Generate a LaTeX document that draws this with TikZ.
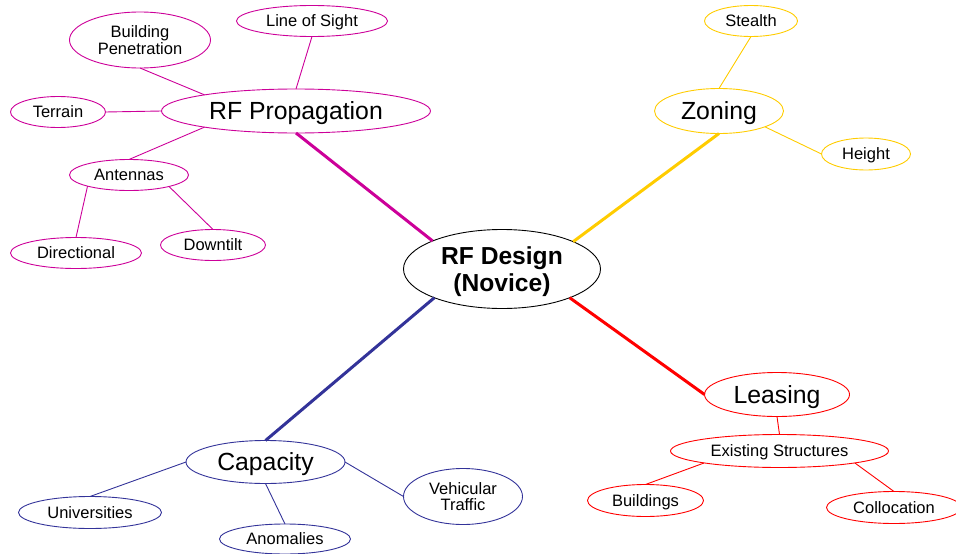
\documentclass[tikz,border=0pt]{standalone}
\usepackage{fontspec}
\setmainfont{Liberation Sans}
\usetikzlibrary{shapes.geometric}
\definecolor{cMag}{RGB}{204,0,153}
\definecolor{cYel}{RGB}{255,204,0}
\definecolor{cBlu}{RGB}{51,51,153}
\definecolor{cRed}{RGB}{255,0,0}
\tikzset{
  el/.style={ellipse, draw, inner sep=0pt, outer sep=0pt, align=center, line width=0.9pt, text=black, text depth=0pt},
  small/.style={font=\fontsize{16.5}{16.8}\selectfont},
  big/.style={font=\fontsize{24.8}{27}\selectfont},
  hub/.style={font=\fontsize{24.6}{26.5}\selectfont\bfseries},
  twig/.style={line width=0.9pt},
  trunk/.style={line width=3pt},
  mg/.style={draw=cMag},
  yl/.style={draw=cYel},
  bl/.style={draw=cBlu},
  rd/.style={draw=cRed}
}
\begin{document}
\begin{tikzpicture}[x=1pt,y=-1pt]
\useasboundingbox (0,0) rectangle (956,554);
% center
\node[el, hub, draw=black, minimum width=197pt, minimum height=79pt] (ctr) at (502,269) {RF Design\\(Novice)};
% RF Propagation branch
\node[el, big, mg, minimum width=269pt, minimum height=44pt] (rfp) at (296,111) {RF Propagation};
\node[el, small, mg, minimum width=151pt, minimum height=31pt] (los) at (312,21) {Line of Sight};
\node[el, small, mg, minimum width=141pt, minimum height=56pt] (bp) at (140,40) {Building\\Penetration};
\node[el, small, mg, minimum width=95pt, minimum height=31pt] (ter) at (58,112) {Terrain};
\node[el, small, mg, minimum width=119pt, minimum height=31pt] (ant) at (129,175) {Antennas};
\node[el, small, mg, minimum width=131pt, minimum height=31pt] (dir) at (76,253) {Directional};
\node[el, small, mg, minimum width=105pt, minimum height=31pt] (dwn) at (213,245) {Downtilt};
% Zoning branch
\node[el, big, yl, minimum width=129pt, minimum height=45pt] (zon) at (719,111) {Zoning};
\node[el, small, yl, minimum width=93pt, minimum height=31pt] (stl) at (751,21) {Stealth};
\node[el, small, yl, minimum width=89pt, minimum height=32pt] (hgt) at (866,154) {Height};
% Capacity branch
\node[el, big, bl, minimum width=159pt, minimum height=43pt] (cap) at (265.5,462) {Capacity};
\node[el, small, bl, minimum width=143pt, minimum height=32pt] (uni) at (90,512.5) {Universities};
\node[el, small, bl, minimum width=131pt, minimum height=30pt] (ano) at (285,539) {Anomalies};
\node[el, small, bl, minimum width=119pt, minimum height=56pt] (veh) at (463,496.5) {Vehicular\\Traffic};
% Leasing branch
\node[el, big, rd, minimum width=145pt, minimum height=44pt] (lea) at (777,394.5) {Leasing};
\node[el, small, rd, minimum width=218pt, minimum height=33pt] (exs) at (779.5,451) {Existing Structures};
\node[el, small, rd, minimum width=116pt, minimum height=32pt] (bld) at (645.5,500.5) {Buildings};
\node[el, small, rd, minimum width=135pt, minimum height=32pt] (col) at (894,507.5) {Collocation};
% trunks
\draw[trunk, cMag] (rfp.270) -- (ctr.158);
\draw[trunk, cYel] (zon.270) -- (ctr.21.5);
\draw[trunk, cBlu] (cap.90) -- (ctr.203);
\draw[trunk, cRed] (lea.180) -- (ctr.-23);
% twigs
\draw[twig, cMag] (bp.270) -- (rfp.170);
\draw[twig, cMag] (los.270) -- (rfp.90);
\draw[twig, cMag] (ter.0) -- (rfp.180);
\draw[twig, cMag] (ant.90) -- (rfp.190);
\draw[twig, cMag] (ant.195.6) -- (dir.90);
\draw[twig, cMag] (ant.344.4) -- (dwn.90);
\draw[twig, cYel] (zon.90) -- (stl.270);
\draw[twig, cYel] (zon.341) -- (hgt.180);
\draw[twig, cBlu] (cap.180) -- (uni.90);
\draw[twig, cBlu] (cap.270) -- (ano.90);
\draw[twig, cBlu] (cap.0) -- (veh.180);
\draw[twig, cRed] (lea.270) -- (exs.90);
\draw[twig, cRed] (exs.189) -- (bld.90);
\draw[twig, cRed] (exs.351) -- (col.90);
\end{tikzpicture}
\end{document}
